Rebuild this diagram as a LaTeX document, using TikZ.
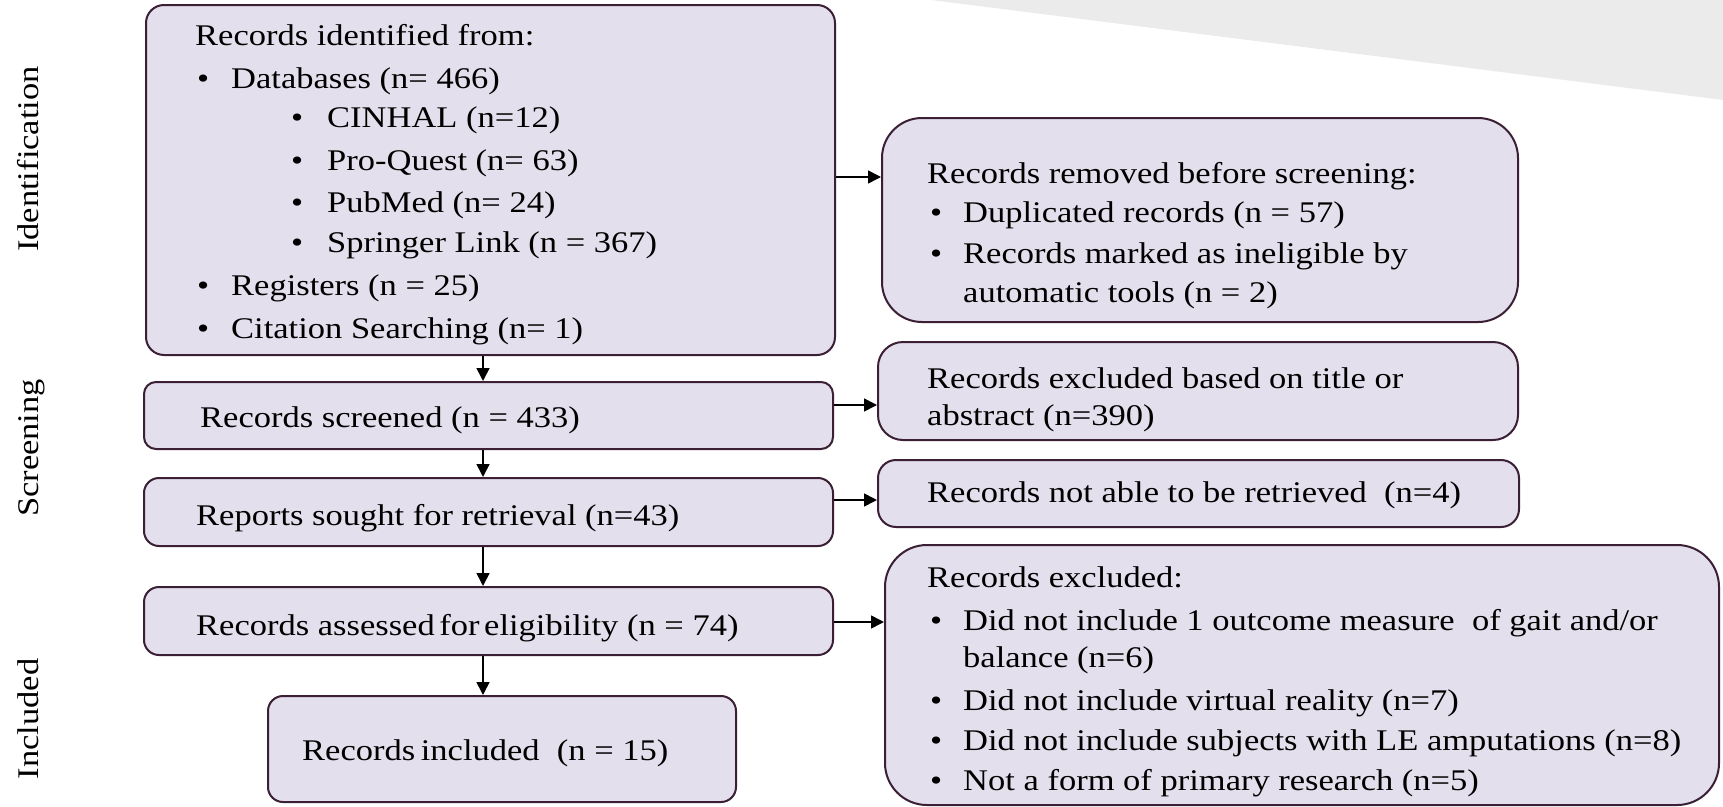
\documentclass[tikz,border=0pt]{standalone}
\usepackage{fontspec}
\setmainfont{Liberation Serif}[FakeStretch=1.15]
\usetikzlibrary{arrows.meta}
\definecolor{boxfill}{HTML}{E4DFEC}
\definecolor{boxline}{HTML}{3A1F35}
\definecolor{bggray}{HTML}{EBEBEB}
\begin{document}
\begin{tikzpicture}[x=1pt,y=-1pt,
  box/.style={draw=boxline, fill=boxfill, line width=2pt, inner sep=0pt, rectangle},
  txt/.style={anchor=base west, inner sep=0pt, font=\fontsize{30}{36}\selectfont},
  side/.style={anchor=base, inner sep=0pt, rotate=90, font=\fontsize{30}{36}\selectfont},
  arr/.style={line width=1.6pt, -{Triangle[length=13pt,width=13pt]}}]
\useasboundingbox (0,0) rectangle (1723,806);
\fill[bggray] (931,0) -- (1723,0) -- (1723,100) -- cycle;

% boxes
\node[box, rounded corners=18pt, minimum width=689pt, minimum height=350pt] (id) at (490.5,180) {};
\node[box, rounded corners=40pt, minimum width=636pt, minimum height=204pt] (rem) at (1200,220) {};
\node[box, rounded corners=12pt, minimum width=689pt, minimum height=67pt] (scr) at (488.5,415.5) {};
\node[box, rounded corners=25pt, minimum width=640pt, minimum height=98pt] (exc) at (1198,391) {};
\node[box, rounded corners=15pt, minimum width=689pt, minimum height=68pt] (sou) at (488.5,512) {};
\node[box, rounded corners=18pt, minimum width=641pt, minimum height=67pt] (nr) at (1198.5,493.5) {};
\node[box, rounded corners=15pt, minimum width=689pt, minimum height=68pt] (asm) at (488.5,621) {};
\node[box, rounded corners=42pt, minimum width=834pt, minimum height=260pt] (exb) at (1302,675) {};
\node[box, rounded corners=15pt, minimum width=468pt, minimum height=106pt] (inc) at (502,749) {};

% side labels
\node[side] (lid) at (38,159) {Identification};
\node[side] (lsc) at (38,448) {Screening};
\node[side] (lin) at (38,719) {Included};

% box 1 text
\node[txt] (i0) at (195,45) {Records identified from:};
\node[txt] (i1b) at (197,88) {•};
\node[txt] (i1) at (231,88) {Databases (n= 466)};
\node[txt] (i2b) at (291,127) {•};
\node[txt] (i2) at (327,127) {CINHAL (n=12)};
\node[txt] (i3b) at (291,170) {•};
\node[txt] (i3) at (327,170) {Pro-Quest (n= 63)};
\node[txt] (i4b) at (291,212) {•};
\node[txt] (i4) at (327,212) {PubMed (n= 24)};
\node[txt] (i5b) at (291,252) {•};
\node[txt] (i5) at (327,252) {Springer Link (n = 367)};
\node[txt] (i6b) at (197,295) {•};
\node[txt] (i6) at (231,295) {Registers (n = 25)};
\node[txt] (i7b) at (197,338) {•};
\node[txt] (i7) at (231,338) {Citation Searching (n= 1)};

% box 2 text
\node[txt] (r0) at (927,183) {Records removed before screening:};
\node[txt] (r1b) at (930,222) {•};
\node[txt] (r1) at (963,222) {Duplicated records (n = 57)};
\node[txt] (r2b) at (930,263) {•};
\node[txt] (r2) at (963,263) {Records marked as ineligible by};
\node[txt] (r3) at (963,302) {automatic tools (n = 2)};

% left column texts
\node[txt] (s0) at (200,427) {Records screened (n = 433)};
\node[txt] (o0) at (196,525) {Reports sought for retrieval (n=43)};
\node[txt] (a0) at (196,635) {Records assessed\hspace{-4pt} for\hspace{-4pt} eligibility (n = 74)};
\node[txt] (n0) at (302,760) {Records\hspace{-3pt} included~ (n = 15)};

% right column texts
\node[txt] (e0) at (927,388) {Records excluded based on title or};
\node[txt] (e1) at (927,425) {abstract (n=390)};
\node[txt] (nr0) at (927,502) {Records not able to be retrieved~ (n=4)};

\node[txt] (x0) at (927,587) {Records excluded:};
\node[txt] (x1b) at (930,630) {•};
\node[txt] (x1) at (963,630) {Did not include 1 outcome measure~ of gait and/or};
\node[txt] (x1c) at (963,667) {balance (n=6)};
\node[txt] (x2b) at (930,710) {•};
\node[txt] (x2) at (963,710) {Did not include virtual reality (n=7)};
\node[txt] (x3b) at (930,750) {•};
\node[txt] (x3) at (963,750) {Did not include subjects with LE amputations (n=8)};
\node[txt] (x4b) at (930,790) {•};
\node[txt] (x4) at (963,790) {Not a form of primary research (n=5)};

% connector helpers
\coordinate (ax) at (483,0);
\coordinate (y1) at (0,177);
\coordinate (y2) at (0,405);
\coordinate (y3) at (0,500);
\coordinate (y4) at (0,622);

% connectors
\draw[arr] (id.south -| ax) -- (scr.north -| ax);
\draw[arr] (scr.south -| ax) -- (sou.north -| ax);
\draw[arr] (sou.south -| ax) -- (asm.north -| ax);
\draw[arr] (asm.south -| ax) -- (inc.north -| ax);
\draw[arr] (id.east |- y1) -- (rem.west |- y1);
\draw[arr] (scr.east |- y2) -- (exc.west |- y2);
\draw[arr] (sou.east |- y3) -- (nr.west |- y3);
\draw[arr] (asm.east |- y4) -- (exb.west |- y4);
\end{tikzpicture}
\end{document}
